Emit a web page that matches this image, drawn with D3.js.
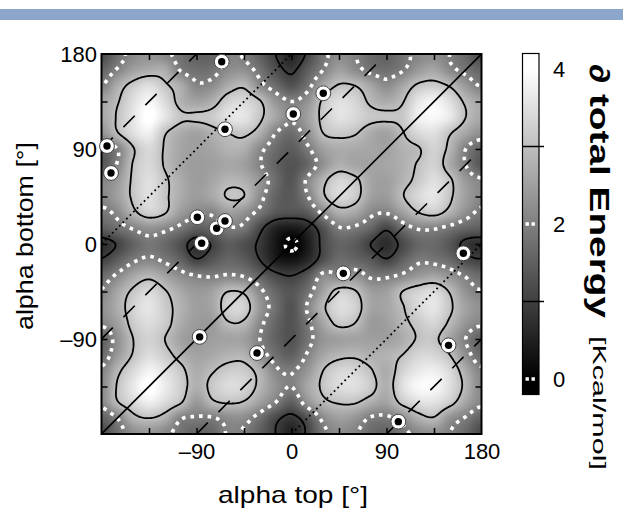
<!DOCTYPE html>
<html><head><meta charset="utf-8">
<script src="https://cdn.jsdelivr.net/npm/d3@7"></script>
<style>
html,body{margin:0;padding:0;background:#fff;}
svg{display:block;font-family:"Liberation Sans",Arial,Helvetica,sans-serif;}
</style>
</head><body>
<svg id="chart" width="623" height="509"></svg>
<script>
// ---- data ----
const colAngles = [-180,-165,-150,-135,-120,-105,-90,-75,-60,-45,-30,-15,0,15,30,45,60,75,90,105,120,135,150,165];
const rowAngles = [180,165,150,135,120,105,90,75,60,45,30,15,0,-15,-30,-45,-60,-75,-90,-105,-120,-135,-150,-165];
const energy = [
 [1.2,1.75,2.2,2.35,2.15,1.8,1.55,1.6,2.05,1.95,1.5,1.0,0.55,1.1,1.85,2.2,2.05,1.7,1.55,1.85,2.15,2.25,2.0,1.65],
 [1.6,2.05,2.5,2.7,2.7,1.95,1.75,1.8,2.2,2.25,1.8,1.25,0.9,1.45,2.0,2.5,2.2,1.85,1.75,1.95,2.4,2.6,2.15,1.85],
 [2.0,2.7,3.2,3.5,3.1,2.7,2.1,2.2,2.7,2.9,2.2,1.7,1.3,1.8,2.6,3.05,3.0,2.6,2.2,2.6,3.1,3.2,2.95,2.4],
 [2.6,2.95,3.5,3.85,3.45,2.8,2.55,2.75,3.3,3.4,3.05,2.35,2.0,2.3,3.1,3.5,3.35,2.9,2.7,2.95,3.6,3.85,3.5,2.9],
 [2.65,3.05,3.6,4.05,3.6,3.1,3.1,3.2,3.55,3.6,3.1,2.6,2.1,2.5,3.15,3.55,3.4,3.15,3.1,3.15,3.75,3.9,3.65,3.0],
 [2.3,2.95,3.5,3.75,3.05,2.7,2.55,2.8,3.0,3.1,2.75,2.0,1.7,2.25,3.0,3.15,3.05,2.7,2.55,2.95,3.4,3.5,3.05,2.6],
 [1.6,2.0,2.95,3.4,2.95,2.6,2.5,2.6,2.8,2.75,2.15,1.7,1.45,1.9,2.5,2.7,2.65,2.6,2.55,2.8,2.95,3.3,2.85,2.0],
 [1.4,2.05,3.05,3.4,2.95,2.6,2.45,2.5,2.6,2.5,2.05,1.55,1.3,1.6,2.3,2.75,2.6,2.55,2.6,2.75,3.05,3.3,2.7,2.0],
 [2.1,2.4,3.1,3.5,3.1,2.7,2.45,2.6,2.85,2.75,2.35,1.7,1.35,2.1,2.85,3.35,3.15,2.6,2.5,2.8,3.15,3.5,3.1,2.4],
 [2.15,2.5,3.1,3.5,3.1,2.7,2.45,2.65,3.05,3.0,2.2,1.55,1.4,1.95,2.9,3.4,3.2,2.55,2.45,2.95,3.4,3.6,3.1,2.5],
 [1.9,2.15,2.85,3.3,3.05,2.45,2.15,2.1,2.5,2.3,1.85,1.4,1.3,1.45,2.15,2.75,2.65,2.15,2.05,2.5,3.0,3.2,2.8,2.25],
 [1.5,1.75,2.05,2.3,2.15,1.85,1.5,1.65,1.95,1.85,1.15,0.55,0.4,0.65,1.3,1.95,1.9,1.6,1.1,1.7,2.05,2.05,1.85,1.6],
 [0.75,1.05,1.55,1.85,1.65,1.25,0.75,1.05,1.45,1.25,0.9,0.35,-0.1,0.4,1.15,1.55,1.45,1.0,0.7,1.15,1.6,1.65,1.35,0.85],
 [1.05,1.45,1.9,2.1,1.9,1.55,1.05,1.35,1.6,1.45,1.0,0.45,0.3,0.6,1.25,1.7,1.6,1.4,1.05,1.5,1.9,1.85,1.65,1.2],
 [1.7,2.1,2.6,2.85,2.55,2.2,2.0,1.95,2.05,1.95,1.55,1.15,1.0,1.35,2.15,2.1,2.3,1.9,1.9,2.1,2.4,2.55,2.3,1.95],
 [2.05,2.6,3.1,3.4,3.05,2.65,2.4,2.55,3.0,2.9,2.15,1.6,1.35,1.75,2.55,3.2,3.05,2.5,2.5,3.0,3.3,3.45,2.95,2.3],
 [2.3,2.7,3.3,3.6,3.2,2.8,2.5,2.6,3.3,3.3,2.4,1.75,1.3,2.05,2.9,3.45,3.3,2.6,2.6,2.95,3.4,3.6,3.1,2.55],
 [2.1,2.5,3.2,3.45,3.2,2.7,2.45,2.45,2.95,2.9,2.15,1.6,1.3,1.85,2.6,3.15,3.0,2.45,2.5,2.85,3.15,3.35,2.9,2.35],
 [1.55,2.25,3.0,3.3,3.0,2.55,2.4,2.5,2.55,2.5,2.0,1.55,1.3,1.8,2.35,2.5,2.55,2.5,2.5,2.7,3.05,3.1,2.6,2.0],
 [1.7,2.4,3.05,3.45,3.2,2.8,2.55,2.65,2.8,2.8,2.25,1.75,1.5,2.05,2.6,2.85,2.9,2.75,2.8,3.0,3.35,3.35,3.0,2.25],
 [2.1,2.85,3.4,3.8,3.55,3.15,2.7,2.95,3.2,3.2,2.8,2.1,1.95,2.35,3.0,3.35,3.35,3.05,2.7,3.3,3.65,3.75,3.4,2.7],
 [2.2,3.05,3.65,4.05,3.7,3.25,2.75,3.15,3.45,3.35,2.85,2.3,2.0,2.6,3.1,3.45,3.5,3.2,2.75,3.5,3.9,3.9,3.5,2.85],
 [2.15,2.95,3.4,3.75,3.45,3.05,2.4,2.9,3.05,2.95,2.5,2.0,1.5,2.3,2.85,3.05,3.05,2.75,2.55,3.15,3.5,3.55,3.2,2.6],
 [1.55,2.0,2.8,3.0,2.75,2.05,1.95,1.95,2.2,2.2,1.75,1.15,0.85,1.3,2.15,2.5,2.35,1.95,1.9,2.2,2.75,2.95,2.3,1.95]
];
const tickAngles = [-135,-90,-45,0,45,90,135];
const labelAngles = [-90,0,90,180];
const solidLevels = [1,3];
const dottedLevels = [0,2,4];
const colorbarLabels = [0,2,4];
const colorbarTickLevels = [1,3];
const markerTop = [-66.1,-174.8,-171,-63,1.7,30.1,-89.2,-70.9,-63,-85.1,-87,-32.7,49.1,162.8,148.8,101.2];
const markerBottom = [172.7,92.8,67.3,108.7,123.2,142.8,25.3,14.9,21.8,0.7,-88,-103.3,-27.8,-8.8,-96,-168.3];
const diagSolid = [0];
const diagDashed = [90,-90,270,-270];
const diagDotted = [180,-180];

// ---- layout ----
const svg = d3.select("#chart");
const L = 101.5, T = 54, S = 380;
const x = d3.scaleLinear([-180,180],[0,S]);
const y = d3.scaleLinear([-180,180],[S,0]);
const gray = d3.scaleLinear([0,4],[0,255]).clamp(true);

svg.append("rect").attr("x",0).attr("y",9).attr("width",623).attr("height",11).attr("fill","#8ca5cb");

// periodic bicubic sampling of the read grid (for smooth rendering)
const NC = colAngles.length, NR = rowAngles.length, STEP = 15;
function g(i,j){ return energy[((j%NR)+NR)%NR][((i%NC)+NC)%NC]; }
function cr(p0,p1,p2,p3,t){ return 0.5*((2*p1)+(-p0+p2)*t+(2*p0-5*p1+4*p2-p3)*t*t+(-p0+3*p1-3*p2+p3)*t*t*t); }
function field(ax,ay){
  const u=(ax-colAngles[0])/STEP, v=(rowAngles[0]-ay)/STEP;
  const i=Math.floor(u), j=Math.floor(v), tx=u-i, ty=v-j;
  const r=[];
  for(let m=-1;m<=2;m++) r.push(cr(g(i-1,j+m),g(i,j+m),g(i+1,j+m),g(i+2,j+m),tx));
  return cr(r[0],r[1],r[2],r[3],ty);
}

const plot = svg.append("g").attr("transform",`translate(${L},${T})`);
const defs = svg.append("defs");
defs.append("clipPath").attr("id","clip").append("rect").attr("width",S).attr("height",S);

// heatmap
const cv = document.createElement("canvas"); cv.width=S; cv.height=S;
const ctx = cv.getContext("2d"); const img = ctx.createImageData(S,S);
for(let py=0;py<S;py++) for(let px=0;px<S;px++){
  const v = field(x.invert(px+0.5), y.invert(py+0.5));
  const c = Math.round(gray(v)); const k=(py*S+px)*4;
  img.data[k]=c; img.data[k+1]=c; img.data[k+2]=c; img.data[k+3]=255;
}
ctx.putImageData(img,0,0);
plot.append("image").attr("href",cv.toDataURL()).attr("width",S).attr("height",S);

// contours
const P=4, n=361+2*P, vals=new Float64Array(n*n);
for(let r=0;r<n;r++) for(let k=0;k<n;k++) vals[r*n+k]=field(-180-P+k, 180+P-r);
const conts = d3.contours().size([n,n]).thresholds([...solidLevels,...dottedLevels].sort((a,b)=>a-b))(vals);
const proj = d3.geoTransform({point(a,b){ this.stream.point(x(-180-P+a-0.5), y(180+P-b+0.5)); }});
const path = d3.geoPath(proj);
const cg = plot.append("g").attr("clip-path","url(#clip)");
cg.selectAll("path.c").data(conts).join("path")
  .attr("d",path).attr("fill","none")
  .attr("stroke",d=>solidLevels.includes(d.value)?"#000":"#fff")
  .attr("stroke-width",d=>solidLevels.includes(d.value)?1.8:3.6)
  .attr("stroke-dasharray",d=>solidLevels.includes(d.value)?null:"3.6,5");

// diagonal guide lines y = x + c
function seg(c){ const x0=Math.max(-180,-180-c), x1=Math.min(180,180-c); return [[x0,x0+c],[x1,x1+c]]; }
const line = d3.line().x(d=>x(d[0])).y(d=>y(d[1]));
cg.selectAll("path.ds").data(diagSolid).join("path").attr("d",c=>line(seg(c))).attr("stroke","#000").attr("stroke-width",1.6).attr("fill","none");
cg.selectAll("path.dd").data(diagDashed).join("path").attr("d",c=>line(seg(c))).attr("stroke","#000").attr("stroke-width",1.6).attr("fill","none").attr("stroke-dasharray","16,15");
cg.selectAll("path.dt").data(diagDotted).join("path").attr("d",c=>line(seg(c))).attr("stroke","#000").attr("stroke-width",1.8).attr("fill","none").attr("stroke-dasharray","1.8,3.2");

// frame & inner ticks
plot.append("rect").attr("width",S).attr("height",S).attr("fill","none").attr("stroke","#000").attr("stroke-width",2);
function tickAxis(ax, tr){
  const a = plot.append("g").attr("transform",tr).call(ax.tickValues(tickAngles).tickSize(-6).tickFormat(""));
  a.select(".domain").remove(); a.selectAll("line").attr("stroke-width",1.5);
}
tickAxis(d3.axisBottom(x),`translate(0,${S})`);
tickAxis(d3.axisTop(x),`translate(0,0)`);
tickAxis(d3.axisLeft(y),`translate(0,0)`);
tickAxis(d3.axisRight(y),`translate(${S},0)`);

const fmt = d => d<0 ? "\u2013"+Math.abs(d) : String(d);
const xl = plot.append("g").attr("transform",`translate(0,${S})`).call(d3.axisBottom(x).tickValues(labelAngles).tickSize(0).tickPadding(9).tickFormat(fmt));
const yl = plot.append("g").call(d3.axisLeft(y).tickValues(labelAngles).tickSize(0).tickPadding(4.5).tickFormat(fmt));
[xl,yl].forEach(a=>{a.select(".domain").remove(); a.selectAll("text").attr("font-size",22).attr("font-family",null).attr("fill","#000");});

// markers
const mk = plot.selectAll("g.m").data(markerTop.map((t,i)=>[t,markerBottom[i]])).join("g")
  .attr("transform",d=>`translate(${x(d[0])},${y(d[1])})`);
mk.append("circle").attr("r",7.4).attr("fill","#fff").attr("stroke","#444").attr("stroke-width",1);
mk.append("circle").attr("r",3.7).attr("fill","#000");

// axis titles
svg.append("text").attr("x",293).attr("y",503).attr("text-anchor","middle").attr("font-size",24)
  .attr("textLength",150).attr("lengthAdjust","spacingAndGlyphs").text("alpha top [\u00b0]");
svg.append("text").attr("transform","translate(33,236) rotate(-90)").attr("text-anchor","middle").attr("font-size",24)
  .attr("textLength",188).attr("lengthAdjust","spacingAndGlyphs").text("alpha bottom [\u00b0]");

// colorbar
const cb = d3.scaleLinear([-0.2,4.2],[394.5,53.5]);
const grad = defs.append("linearGradient").attr("id","cbg").attr("x1",0).attr("y1",1).attr("x2",0).attr("y2",0);
[-0.2,0,4,4.2].forEach(v=>{
  grad.append("stop").attr("offset",(v+0.2)/4.4).attr("stop-color",d3.rgb(gray(v),gray(v),gray(v)));
});
const cbx = 522.5, cbw = 16.5;
svg.append("rect").attr("x",cbx).attr("y",cb(4.2)).attr("width",cbw).attr("height",cb(-0.2)-cb(4.2))
  .attr("fill","url(#cbg)").attr("stroke","#000").attr("stroke-width",1.2);
svg.selectAll("line.cbt").data(colorbarTickLevels).join("line")
  .attr("x1",cbx).attr("x2",cbx+cbw+5).attr("y1",d=>cb(d)).attr("y2",d=>cb(d)).attr("stroke","#000").attr("stroke-width",1.5);
svg.selectAll("line.cbd").data(dottedLevels).join("line")
  .attr("x1",cbx+3).attr("x2",cbx+cbw-2).attr("y1",d=>cb(d)).attr("y2",d=>cb(d))
  .attr("stroke","#fff").attr("stroke-width",3.4).attr("stroke-dasharray","3.4,2.6");
svg.selectAll("text.cbl").data(colorbarLabels).join("text")
  .attr("x",553).attr("y",d=>cb(d)).attr("dy","0.35em").attr("font-size",22).text(d=>d);

svg.append("text").attr("transform","translate(590,64) rotate(90)").attr("font-size",28).attr("font-weight","bold")
  .attr("textLength",254).attr("lengthAdjust","spacingAndGlyphs").text("\u2202 total Energy");
svg.append("text").attr("transform","translate(593,336) rotate(90)").attr("font-size",19)
  .attr("textLength",134).attr("lengthAdjust","spacingAndGlyphs").text("[Kcal/mol]");
</script>
</body></html>
